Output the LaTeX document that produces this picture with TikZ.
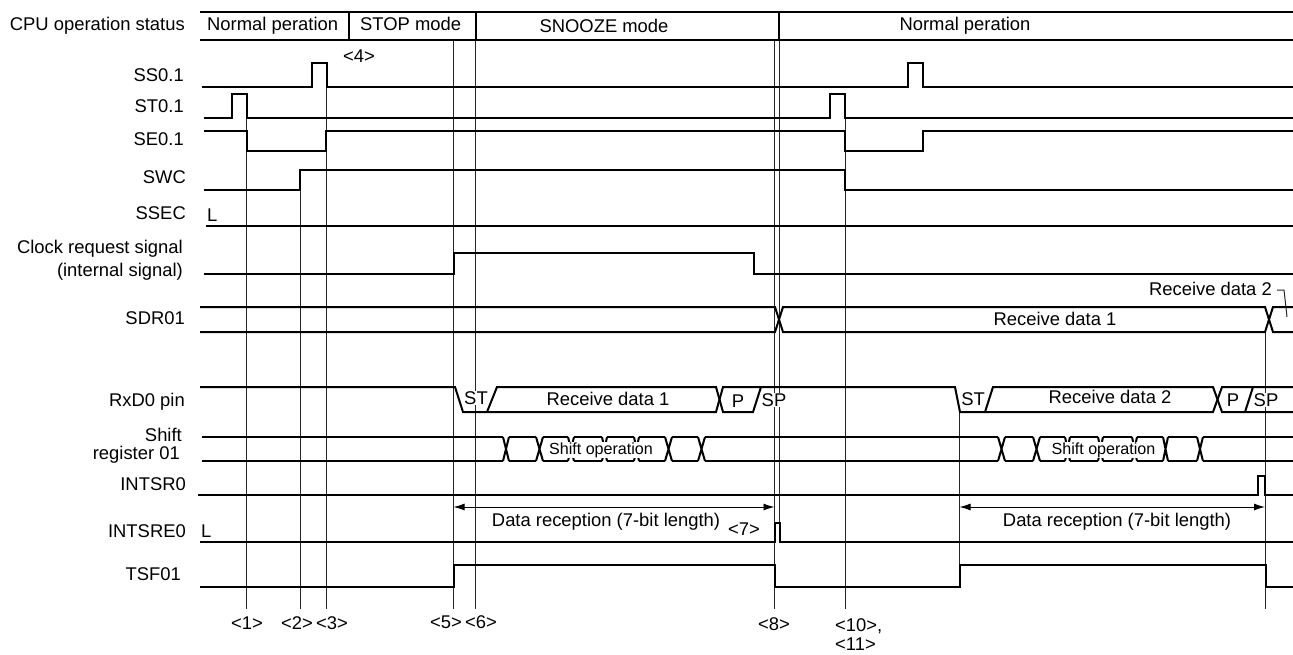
\documentclass[tikz,border=0pt]{standalone}
\usepackage{fontspec}
\setmainfont{Liberation Sans}
\usetikzlibrary{arrows.meta}
\tikzset{
  sig/.style={line width=2pt,line join=miter,black},
  vline/.style={line width=1pt,black!85},
  lab/.style={inner sep=0pt,font=\fontsize{18.4}{22}\selectfont,text=black,yshift=-6.5pt},
  txtc/.style={lab,anchor=base},
  txtr/.style={lab,anchor=base east},
  txtl/.style={lab,anchor=base west},
  txtw/.style={inner sep=0.5pt,fill=white,font=\fontsize{18.4}{22}\selectfont,text=black},
  shifttxt/.style={inner sep=0.5pt,fill=white,font=\fontsize{16.1}{19}\selectfont,text=black},
  dim/.style={line width=0.9pt,black,{Latex[length=11pt,width=7pt]}-{Latex[length=11pt,width=7pt]}}
}
\begin{document}
\begin{tikzpicture}[x=1pt,y=-1pt]
\useasboundingbox[fill=white] (0,0) rectangle (1293,654);
% thin vertical timing lines
\coordinate (v1t) at (246.5,118);  \coordinate (v1b) at (246.5,609);
\coordinate (v2t) at (300.5,190);  \coordinate (v2b) at (300.5,609);
\coordinate (v3t) at (326.5,87);   \coordinate (v3b) at (326.5,609);
\coordinate (v5t) at (453.5,40); \coordinate (v5b) at (453.5,609);
\coordinate (v6t) at (475.5,40);   \coordinate (v6b) at (475.5,609);
\coordinate (v8t) at (774.5,40); \coordinate (v8b) at (774.5,609);
\coordinate (v7t) at (779.5,40);   \coordinate (v7b) at (779.5,523);
\coordinate (v10t) at (845.5,118); \coordinate (v10b) at (845.5,609);
\coordinate (v12t) at (959.5,412); \coordinate (v12b) at (959.5,565);
\coordinate (v13t) at (1265.5,332); \coordinate (v13b) at (1265.5,609);
\foreach \n in {1,2,3,5,6,8,7,10,12,13} \draw[vline] (v\n t) -- (v\n b);
% status band
\draw[sig] (200,12) -- (1293,12) (200,40) -- (1293,40)
  (349,12) -- (349,40) (476,12) -- (476,40) (779,12) -- (779,40);
% signals
\draw[sig] (201.5,87) -| (312,63) -| (327,87) -| (908,63) -| (923,87) -- (1293,87);
\draw[sig] (204,118) -| (232,94) -| (246.5,118) -| (830,94) -| (845,118) -- (1293,118);
\draw[sig] (204,131) -| (246.5,151) -| (326,131) -| (845,151) -| (923,131) -- (1293,131);
\draw[sig] (204,190) -| (300,170) -| (845,190) -- (1293,190);
\draw[sig] (206,226) -- (1293,226);
\draw[sig] (204,274) -| (453.5,253) -| (754,274) -- (1293,274);
% SDR01
\draw[sig] (200,307) -- (775,307) -- (783,332) -- (1265,332) -- (1273,307) -- (1293,307);
\draw[sig] (200,332) -- (775,332) -- (783,307) -- (1265,307) -- (1273,332) -- (1293,332);
% RxD0
\draw[sig] (200,387) -- (455,387) -- (463,412) -- (716,412) -- (723,387) -- (955,387) -- (960,412) -- (1213,412) -- (1222,387) -- (1293,387);
\draw[sig] (487,412) -- (497,387) -- (716,387) -- (723,412) -- (753,412) -- (761,387);
\draw[sig] (985,412) -- (993,387) -- (1213,387) -- (1222,412) -- (1293,412);
\draw[sig] (1245,412) -- (1253,387);
% shift register
\foreach \a/\b in {202/503,509/536,543/568,574/602,607/634,639/665,672/698,705/998,1005/1033,1040/1065,1070/1098,1103/1132,1137/1163,1168/1197,1203/1293}
  \draw[sig] (\a,437) -- (\b,437) (\a,461) -- (\b,461);
\foreach \a/\b in {503/509,536/543,568/574,602/607,634/639,665/672,698/705,998/1005,1033/1040,1065/1070,1098/1103,1132/1137,1163/1168,1197/1203}
  \draw[sig] (\a,437) -- (\b,461) (\a,461) -- (\b,437);
% lower signals
\draw[sig] (198,495) -| (1258,476) -| (1265,495) -- (1293,495);
\draw[sig] (200,542) -| (774.5,523) -| (780,542) -- (1293,542);
\draw[sig] (200,587) -| (453.5,565) -| (774.5,587) -| (959.5,565) -| (1265.5,587) -- (1293,587);
% dimension arrows
\draw[dim] (453.5,507) -- (774.5,507);
\draw[dim] (959.5,507) -- (1265,507);
% leader
\draw[vline] (1277,290) -- (1284,290) -- (1287,317);
% left labels
\node[txtr] (lcpu) at (185,24) {CPU operation status};
\node[txtr] (lss) at (184,75) {SS0.1};
\node[txtr] (lst) at (184,106) {ST0.1};
\node[txtr] (lse) at (184,139) {SE0.1};
\node[txtr] (lswc) at (186,177) {SWC};
\node[txtr] (lssec) at (186,213) {SSEC};
\node[txtr] (lclk) at (183,247) {Clock request signal};
\node[txtr] (lint) at (183,270) {(internal signal)};
\node[txtr] (lsdr) at (185,318) {SDR01};
\node[txtr] (lrxd) at (185,400) {RxD0 pin};
\node[txtr] (lshift) at (182,435) {Shift};
\node[txtr] (lreg) at (180,453) {register 01};
\node[txtr] (lisr) at (186,484) {INTSR0};
\node[txtr] (lisre) at (186,531) {INTSRE0};
\node[txtr] (ltsf) at (181,574) {TSF01};
\node[txtl] (l1) at (207,215) {L};
\node[txtl] (l2) at (201,531) {L};
% status texts
\node[txtl] (s1) at (207,24) {Normal peration};
\node[txtl] (s2) at (360,24) {STOP mode};
\node[txtc] (s3) at (604,26) {SNOOZE mode};
\node[txtc] (s4) at (965,24) {Normal peration};
% inner texts
\node[txtc] (t1) at (1055,319) {Receive data 1};
\node[txtr] (t2) at (1272,289) {Receive data 2};
\node[txtw] (t3) at (476,398) {ST};
\node[txtc] (t4) at (608,399) {Receive data 1};
\node[txtc] (t5) at (738,401) {P};
\node[txtw] (t6) at (774,400) {SP};
\node[txtc] (t7) at (973,399) {ST};
\node[txtc] (t8) at (1110,397) {Receive data 2};
\node[txtc] (t9) at (1233,400) {P};
\node[txtw] (t10) at (1266,400) {SP};
\node[shifttxt] (t11) at (601,450) {Shift operation};
\node[shifttxt] (t12) at (1103.5,450) {Shift operation};
\node[txtc] (t13) at (606,520) {Data reception (7-bit length)};
\node[txtc] (t14) at (1117,520) {Data reception (7-bit length)};
% numbered marks
\node[txtc] (n4) at (359,56) {<4>};
\node[txtc] (n7) at (744,529) {<7>};
\node[txtc] (n1) at (247,623) {<1>};
\node[txtc] (n2) at (297,623) {<2>};
\node[txtc] (n3) at (332,623) {<3>};
\node[txtc] (n5) at (446,622) {<5>};
\node[txtc] (n6) at (481,622) {<6>};
\node[txtc] (n8) at (774,624) {<8>};
\node[txtl] (n10) at (835,625) {<10>,};
\node[txtl] (n11) at (835,644) {<11>};
\end{tikzpicture}
\end{document}
